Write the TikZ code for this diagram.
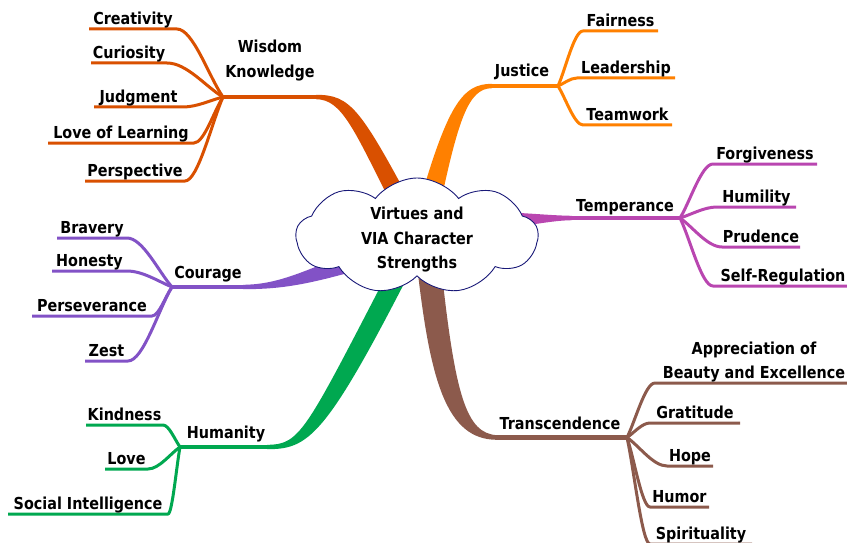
\documentclass[tikz,border=0pt]{standalone}
\usepackage{fontspec}
\setmainfont{DejaVu Sans}[FakeStretch=0.87]
\usetikzlibrary{shapes.symbols,backgrounds}
\definecolor{cW}{RGB}{217,80,0}
\definecolor{cJ}{RGB}{255,128,0}
\definecolor{cT}{RGB}{185,70,176}
\definecolor{cC}{RGB}{130,82,198}
\definecolor{cH}{RGB}{0,168,80}
\definecolor{cR}{RGB}{140,90,76}
\definecolor{cloudline}{RGB}{25,25,120}
\begin{document}
\begin{tikzpicture}[x=1pt,y=-1pt,
  lbl/.style={font=\bfseries\fontsize{16.5}{24.5}\selectfont, inner sep=0pt, align=center, text height=12pt, text depth=3.5pt},
  sub/.style={lbl, anchor=south, inner ysep=1pt, outer sep=0pt},
  thinline/.style={line width=3pt, line join=round},
  mainline/.style={line width=4.5pt},
]
\useasboundingbox (0,0) rectangle (847,543);

% central cloud
\node[cloud, cloud puffs=9, cloud puff arc=105, aspect=2.1, draw=cloudline, fill=white,
      line width=0.9pt, minimum width=242pt, minimum height=116pt, inner sep=0pt] (core) at (417,236) {};
\node[lbl, text height=, text depth=] (ctext) at (417,240) {Virtues and\\VIA Character\\Strengths};

% junctions
\coordinate (jW) at (223,97);
\coordinate (jJ) at (558,86);
\coordinate (jT) at (680,218);
\coordinate (jC) at (172,287);
\coordinate (jH) at (180,447);
\coordinate (jR) at (627,437.5);
\coordinate (hW) at (318,97);
\coordinate (hJ) at (490,86);
\coordinate (hT) at (570,218);
\coordinate (hC) at (245,287);
\coordinate (hH) at (269,447);
\coordinate (hR) at (495,437.5);

% main labels
\node[lbl] (wis) at (270,73) {Wisdom\\Knowledge};
\node[lbl] (jus) at (522,72) {Justice};
\node[lbl] (tem) at (625,207) {Temperance};
\node[lbl] (cou) at (208,274) {Courage};
\node[lbl] (hum) at (226,434) {Humanity};
\node[lbl] (tra) at (560,425) {Transcendence};

% sub topics
\node[sub, minimum width=88pt] (cre) at (133,29) {Creativity};
\node[sub, minimum width=76pt] (cur) at (129,63) {Curiosity};
\node[sub, minimum width=89pt] (jud) at (138.5,107) {Judgment};
\node[sub, minimum width=146pt] (lol) at (121,143) {Love of Learning};
\node[sub, minimum width=100pt] (per) at (135,181) {Perspective};

\node[sub, minimum width=75pt] (fai) at (620.5,31) {Fairness};
\node[sub, minimum width=98pt] (lea) at (626,78) {Leadership};
\node[sub, minimum width=89pt] (tea) at (627.5,125) {Teamwork};

\node[sub, minimum width=104pt] (for) at (765,164) {Forgiveness};
\node[sub, minimum width=79pt] (hmi) at (756.5,207) {Humility};
\node[sub, minimum width=78pt] (pru) at (761,247) {Prudence};
\node[sub, minimum width=140pt] (sel) at (783,286) {Self-Regulation};

\node[sub, minimum width=70pt] (bra) at (92,238) {Bravery};
\node[sub, minimum width=75pt] (hon) at (89.5,271) {Honesty};
\node[sub, minimum width=120pt] (pse) at (92,316) {Perseverance};
\node[sub, minimum width=43pt] (zes) at (106.5,361) {Zest};

\node[sub, minimum width=77pt] (kin) at (124.5,425) {Kindness};
\node[sub, minimum width=43pt] (lov) at (126.5,469) {Love};
\node[sub, minimum width=160pt] (soc) at (88,514) {Social Intelligence};

\node[sub, minimum width=198pt, text height=, text depth=3.5pt] (app) at (754,383) {Appreciation of\\Beauty and Excellence};
\node[sub, minimum width=90pt] (gra) at (695,423) {Gratitude};
\node[sub, minimum width=46pt] (hop) at (690,466) {Hope};
\node[sub, minimum width=59pt] (hmr) at (679.5,507) {Humor};
\node[sub, minimum width=102pt] (spi) at (701,544) {Spirituality};

\begin{scope}[on background layer]
% tapered main branches
\fill[cW] (316,94.8) .. controls (350,94.8) and (360,108) .. (412,205) -- (392,205)
  .. controls (354,130) and (342,99.2) .. (316,99.2) -- cycle;
\fill[cJ] (492,83.8) .. controls (462,83.8) and (447,105) .. (416,215) -- (438,215)
  .. controls (458,120) and (468,88.2) .. (492,88.2) -- cycle;
\fill[cT] (572,215.8) .. controls (550,215.5) and (530,213) .. (480,211) -- (480,231)
  .. controls (530,226) and (550,220.5) .. (572,220.2) -- cycle;
\fill[cC] (243,284.8) .. controls (275,284.5) and (298,274) .. (345,255) -- (355,271)
  .. controls (305,285) and (280,289.2) .. (243,289.2) -- cycle;
\fill[cH] (267,444.8) .. controls (300,444.8) and (305,432) .. (388,272) -- (410,272)
  .. controls (325,438) and (308,449.2) .. (267,449.2) -- cycle;
\fill[cR] (497,435.2) .. controls (466,433.5) and (455,395) .. (441,265) -- (417,265)
  .. controls (430,380) and (446,439.8) .. (497,439.8) -- cycle;

% main horizontals
\draw[mainline, cW] (jW) -- (hW);
\draw[mainline, cJ] (hJ) -- (jJ);
\draw[mainline, cT] (hT) -- (jT);
\draw[mainline, cC] (jC) -- (hC);
\draw[mainline, cH] (jH) -- (hH);
\draw[mainline, cR] (hR) -- (jR);

% sub connectors
\draw[thinline, cW] (jW) .. controls (209,77) and (193,29) .. (cre.south east) -- (cre.south west);
\draw[thinline, cW] (jW) .. controls (206,87) and (187,63) .. (cur.south east) -- (cur.south west);
\draw[thinline, cW] (jW) .. controls (211,100) and (197,107) .. (jud.south east) -- (jud.south west);
\draw[thinline, cW] (jW) .. controls (214,111) and (204,143) .. (lol.south east) -- (lol.south west);
\draw[thinline, cW] (jW) .. controls (212,122) and (198,181) .. (per.south east) -- (per.south west);

\draw[thinline, cJ] (jJ) .. controls (565.5,69.5) and (574,31) .. (fai.south west) -- (fai.south east);
\draw[thinline, cJ] (jJ) .. controls (563.7,83.6) and (570.4,78) .. (lea.south west) -- (lea.south east);
\draw[thinline, cJ] (jJ) .. controls (565.5,97.7) and (574.3,125) .. (tea.south west) -- (tea.south east);

\draw[thinline, cT] (jT) .. controls (690,202) and (701.5,164) .. (for.south west) -- (for.south east);
\draw[thinline, cT] (jT) .. controls (691,214.7) and (704,207) .. (hmi.south west) -- (hmi.south east);
\draw[thinline, cT] (jT) .. controls (692.6,226.7) and (707.3,247) .. (pru.south west) -- (pru.south east);
\draw[thinline, cT] (jT) .. controls (690,238.4) and (701.5,286) .. (sel.south west) -- (sel.south east);

\draw[thinline, cC] (jC) .. controls (158.5,271.6) and (142.8,238) .. (bra.south east) -- (bra.south west);
\draw[thinline, cC] (jC) .. controls (158.5,281.5) and (142.8,271) .. (hon.south east) -- (hon.south west);
\draw[thinline, cC] (jC) .. controls (166,295) and (159,316) .. (pse.south east) -- (pse.south west);
\draw[thinline, cC] (jC) .. controls (158.8,308.5) and (143.4,361) .. (zes.south east) -- (zes.south west);

\draw[thinline, cH] (jH) .. controls (175,440) and (169,425) .. (kin.south east) -- (kin.south west);
\draw[thinline, cH] (jH) .. controls (170.4,453.6) and (159.2,469) .. (lov.south east) -- (lov.south west);
\draw[thinline, cH] (jH) .. controls (176.4,467) and (172.2,514) .. (soc.south east) -- (soc.south west);

\draw[thinline, cR] (jR) .. controls (635.4,420.8) and (645.2,383) .. (app.south west) -- (app.south east);
\draw[thinline, cR] (jR) .. controls (634,432.8) and (642,423) .. (gra.south west) -- (gra.south east);
\draw[thinline, cR] (jR) .. controls (639,445.7) and (653,466) .. (hop.south west) -- (hop.south east);
\draw[thinline, cR] (jR) .. controls (634,458) and (642,507) .. (hmr.south west) -- (hmr.south east);
\draw[thinline, cR] (jR) .. controls (634,469) and (642,544) .. (spi.south west) -- (spi.south east);
\end{scope}
\end{tikzpicture}
\end{document}
